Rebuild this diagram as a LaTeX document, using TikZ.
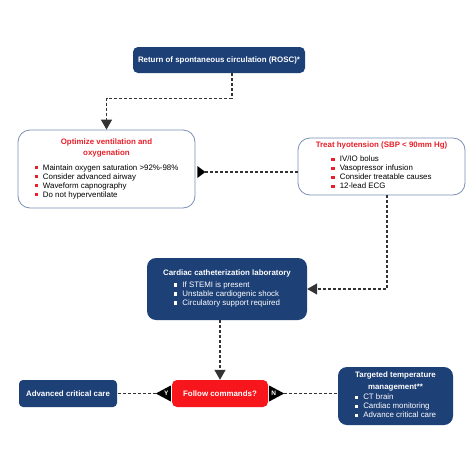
\documentclass[tikz,border=0pt]{standalone}
\usepackage{fontspec}
\setmainfont{Liberation Sans}
\usetikzlibrary{arrows.meta,calc}
\definecolor{navy}{HTML}{1D4077}
\definecolor{hred}{HTML}{E8202A}
\definecolor{fred}{HTML}{F7161B}
\definecolor{edgeblue}{HTML}{7C90B5}
\definecolor{dashgrey}{HTML}{333333}
\newcommand{\bul}[1]{\textcolor{#1}{\rule[0.6pt]{3.4pt}{3.4pt}}\hspace{5pt}}
\begin{document}
\begin{tikzpicture}[x=1pt,y=-1pt,
  every node/.style={font=\fontsize{7.9}{9}\selectfont},
  darkbox/.style={draw=none, fill=navy, text=white, rounded corners=#1, inner sep=0pt, align=center},
  darkbox/.default=5pt,
  litebox/.style={draw=edgeblue, line width=0.8pt, fill=white, rounded corners=12pt, inner sep=0pt, align=center},
  conn/.style={draw=dashgrey, line width=1.2pt, dash pattern=on 3pt off 2pt},
  tip/.style={-{Triangle[length=10pt,width=11pt]}},
  flag/.style={font=\fontsize{6.5}{7}\selectfont\bfseries, text=white, inner sep=0pt}]
\useasboundingbox (0,0) rectangle (474,474);
\fill[white] (0,0) rectangle (474,474);

\node[darkbox=5pt, minimum width=172pt, minimum height=26pt] (rosc) at (219,60)
  {\bfseries Return of spontaneous circulation (ROSC)*};

\node[litebox, minimum width=177pt, minimum height=78pt] (opt) at (106.5,169)
  {\textcolor{hred}{\bfseries Optimize ventilation and}\\[2pt]
   \textcolor{hred}{\bfseries oxygenation}\\[6pt]
   \begin{tabular}{@{}l@{}}
   \bul{hred}Maintain oxygen saturation >92\%-98\%\\
   \bul{hred}Consider advanced airway\\
   \bul{hred}Waveform capnography\\
   \bul{hred}Do not hyperventilate
   \end{tabular}};

\node[litebox, minimum width=167pt, minimum height=57pt] (treat) at (381.5,166.5)
  {\textcolor{hred}{\bfseries Treat hyotension (SBP < 90mm Hg)}\\[5pt]
   \begin{tabular}{@{}l@{}}
   \bul{hred}IV/IO bolus\\
   \bul{hred}Vasopressor infusion\\
   \bul{hred}Consider treatable causes\\
   \bul{hred}12-lead ECG
   \end{tabular}};

\node[darkbox=9pt, minimum width=160pt, minimum height=62pt] (cath) at (227,289)
  {\bfseries Cardiac catheterization laboratory\\[3pt]
   \begin{tabular}{@{}l@{}}
   \bul{white}If STEMI is present\\
   \bul{white}Unstable cardiogenic shock\\
   \bul{white}Circulatory support required
   \end{tabular}};

\node[draw=none, fill=fred, text=white, rounded corners=5pt, inner sep=0pt,
  minimum width=96pt, minimum height=27pt] (follow) at (220,393.5)
  {\bfseries Follow commands?};

\node[darkbox=4pt, minimum width=98pt, minimum height=27pt] (adv) at (68,393.5)
  {\bfseries Advanced critical care};

\node[darkbox=9pt, minimum width=115pt, minimum height=58pt] (ttm) at (395.5,396)
  {\bfseries Targeted temperature\\[3pt]
   \bfseries management**\\[1pt]
   \begin{tabular}{@{}l@{}}
   \bul{white}CT brain\\
   \bul{white}Cardiac monitoring\\
   \bul{white}Advance critical care
   \end{tabular}};

% ROSC -> Optimize
\coordinate (r0) at ($(rosc.south)+(13,0)$);
\draw[conn, tip] (r0) -- ($(r0)+(0,25)$) -| (opt.north);

% Optimize -> Treat (triangle at start)
\coordinate (ob) at ($(opt.east)+(2,3)$);
\coordinate (otip) at ($(ob)+(8,0)$);
\fill[black] ($(ob)+(0,-6)$) -- (otip) -- ($(ob)+(0,6)$) -- cycle;
\draw[conn] (otip) -- (otip -| treat.west);

% Treat -> Cath
\coordinate (t0) at ($(treat.south)+(5.5,0)$);
\draw[conn, tip] (t0) |- (cath.east);

% Cath -> Follow
\draw[conn, tip] (follow.north |- cath.south) -- (follow.north);

% Follow -> Advanced (Y)
\coordinate (yb) at ($(follow.west)+(-1,0)$);
\coordinate (ytip) at ($(yb)+(-15,0)$);
\fill[black] ($(yb)+(0,-8)$) -- (ytip) -- ($(yb)+(0,8)$) -- cycle;
\node[flag] (ylab) at ($(yb)+(-4.5,0)$) {Y};
\draw[conn] (ytip) -- (adv.east);

% Follow -> TTM (N)
\coordinate (nb) at ($(follow.east)+(1,0)$);
\coordinate (ntip) at ($(nb)+(15,0)$);
\fill[black] ($(nb)+(0,-8)$) -- (ntip) -- ($(nb)+(0,8)$) -- cycle;
\node[flag] (nlab) at ($(nb)+(4.5,0)$) {N};
\draw[conn] (ntip) -- (ntip -| ttm.west);
\end{tikzpicture}
\end{document}
